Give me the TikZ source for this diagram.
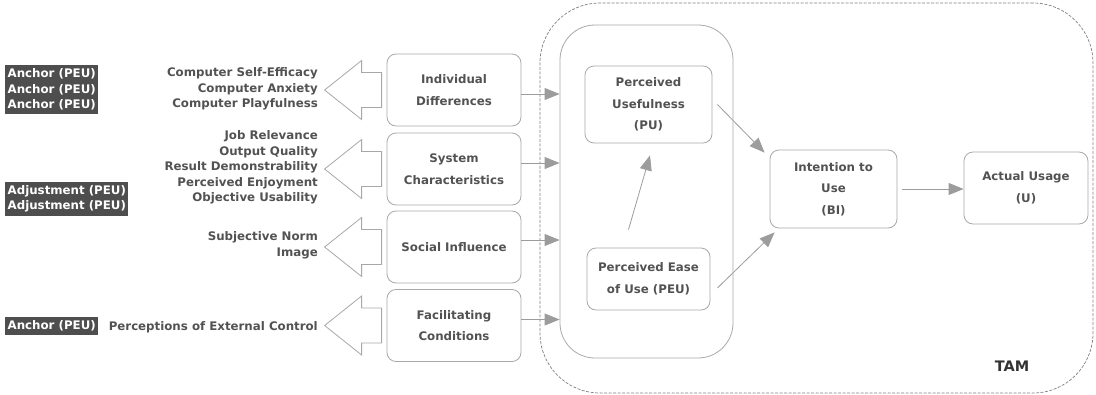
\documentclass[tikz,border=0pt]{standalone}
\usepackage{fontspec}
\setmainfont{DejaVu Sans}
\usetikzlibrary{arrows.meta}

\definecolor{boxline}{HTML}{A8A8A8}
\definecolor{txt}{HTML}{525252}
\definecolor{tagfill}{HTML}{4E4E4E}
\definecolor{arr}{HTML}{9C9C9C}

\begin{document}
\begin{tikzpicture}[x=1pt,y=-1pt,
    font=\fontsize{11.8}{15.5}\selectfont\bfseries,
    box/.style={draw=boxline, line width=0.8pt, rounded corners=9pt, text=txt,
        align=center, inner sep=2pt, font=\fontsize{11.8}{21.5}\selectfont\bfseries},
    flow/.style={draw=arr, line width=0.8pt, -{Triangle[length=15pt,width=12pt]}},
    hollow/.style={draw=boxline, line width=0.8pt, fill=white},
    lbl/.style={text=txt, align=right, anchor=east, inner sep=0pt},
    tag/.style={fill=tagfill, text=white, align=left, anchor=west, inner xsep=2.5pt, inner ysep=3.5pt}]
    \useasboundingbox (0,0) rectangle (1096,394);

    % TAM frame
    \node[draw=black!50, dash pattern=on 3pt off 1.5pt, line width=0.7pt, rounded corners=60pt,
        minimum width=553pt, minimum height=390pt] (tam) at (816.5,198) {};
    \node[draw=boxline, line width=0.8pt, rounded corners=35pt,
        minimum width=173pt, minimum height=333pt] (core) at (646.5,191.5) {};
    \node[font=\fontsize{14.5}{16}\selectfont\bfseries, text=black!80] (tamlbl) at (1012,366) {TAM};

    % external variables
    \node[box, minimum width=134pt, minimum height=72pt] (idiff) at (454,90) {Individual\\Differences};
    \node[box, minimum width=134pt, minimum height=72pt] (sysch) at (454,169) {System\\Characteristics};
    \node[box, minimum width=134pt, minimum height=72pt] (socin) at (454,247) {Social Influence};
    \node[box, minimum width=134pt, minimum height=72pt] (facil) at (454,325.5) {Facilitating\\Conditions};

    \foreach \b in {idiff,sysch,socin,facil} {
        \draw[hollow] ([shift={(-5pt,17.5pt)}]\b.west) -- ++(-20,0) -- ++(0,-12)
            -- ++(-37,29.5) -- ++(37,29.5) -- ++(0,-12) -- ++(20,0) -- cycle;
    }

    % determinants
    \node[lbl] (idtxt) at (318,89) {Computer Self-Efficacy\\Computer Anxiety\\Computer Playfulness};
    \node[lbl] (sctxt) at (318,167.5) {Job Relevance\\Output Quality\\Result Demonstrability\\Perceived Enjoyment\\Objective Usability};
    \node[lbl] (sitxt) at (318,245.5) {Subjective Norm\\Image};
    \node[lbl] (fctxt) at (318,327) {Perceptions of External Control};

    \node[tag] (idtag) at (5,89.5) {Anchor (PEU)\\Anchor (PEU)\\Anchor (PEU)};
    \node[tag] (sctag) at (5,199) {Adjustment (PEU)\\Adjustment (PEU)};
    \node[tag] (fctag) at (5,326) {Anchor (PEU)};

    % TAM constructs
    \node[box, minimum width=127pt, minimum height=77pt] (pu) at (648.5,104.5) {Perceived\\Usefulness\\(PU)};
    \node[box, minimum width=123pt, minimum height=62pt] (peu) at (648.5,279) {Perceived Ease\\of Use (PEU)};
    \node[box, minimum width=127pt, minimum height=78pt] (bi) at (833.5,189) {Intention to\\Use\\(BI)};
    \node[box, minimum width=124pt, minimum height=72pt] (au) at (1026,188) {Actual Usage\\(U)};

    % arrows
    \draw[flow] ([yshift=-4pt]idiff.east) -- ([yshift=-4pt]idiff.east -| core.west);
    \draw[flow] ([yshift=6pt]sysch.east) -- ([yshift=6pt]sysch.east -| core.west);
    \draw[flow] ([yshift=7pt]socin.east) -- ([yshift=7pt]socin.east -| core.west);
    \draw[flow] ([yshift=6pt]facil.east) -- ([yshift=6pt]facil.east -| core.west);

    \draw[flow] ([shift={(-20pt,18pt)}]peu.north) -- ([shift={(1.5pt,-12pt)}]pu.south);
    \draw[flow] ([xshift=5pt]pu.east) -- ([shift={(-5pt,-3pt)}]bi.north west);
    \draw[flow] ([shift={(7pt,-9pt)}]peu.east) -- ([shift={(5pt,-4pt)}]bi.south west);
    \draw[flow] ([xshift=5pt]bi.east) -- (bi.east -| au.west);
\end{tikzpicture}
\end{document}
